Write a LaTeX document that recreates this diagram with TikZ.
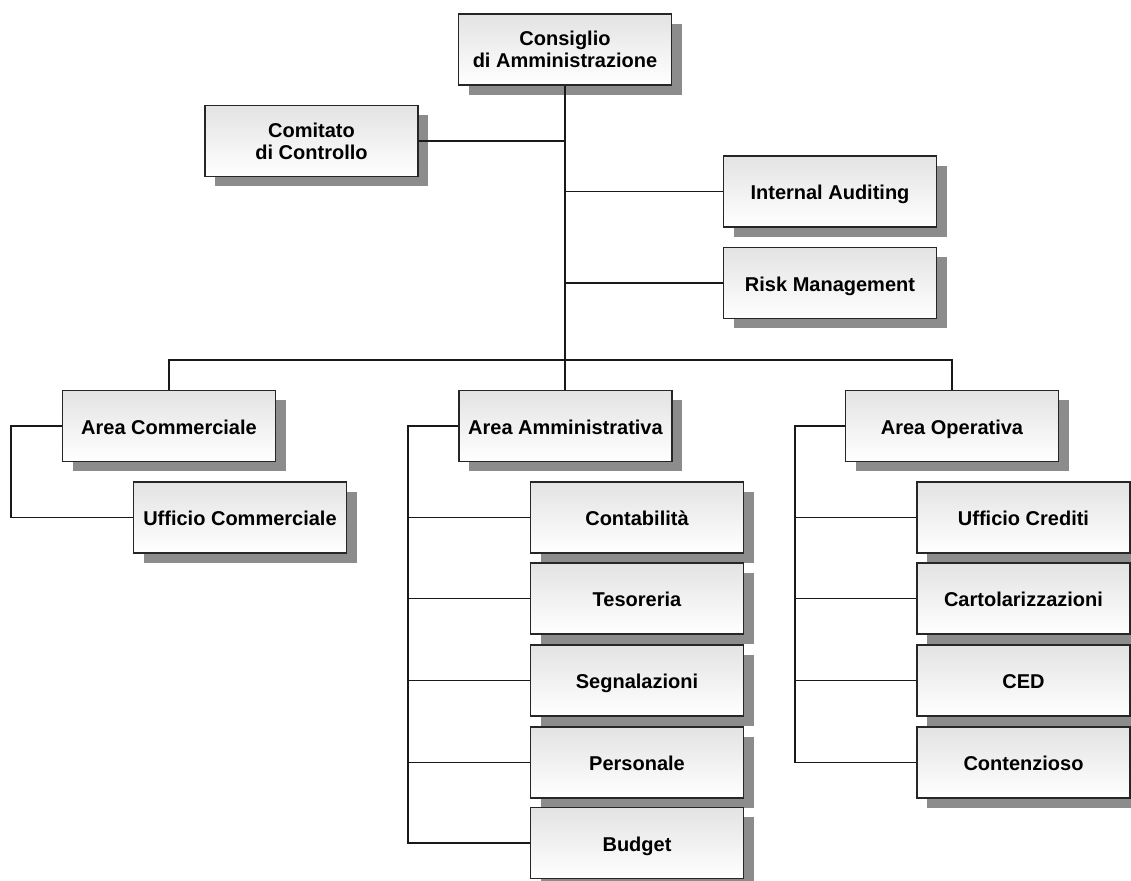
\documentclass[tikz,border=0pt]{standalone}
\usepackage{fontspec}
\setmainfont{Liberation Sans}
\usetikzlibrary{shadows}
\tikzset{
  box/.style={draw=black!85, line width=0.6pt, top color=black!11, bottom color=white,
    minimum width=106.5pt, minimum height=35.5pt, align=center, inner sep=2pt,
    font=\bfseries\fontsize{10}{11}\selectfont,
    drop shadow={shadow xshift=5pt, shadow yshift=-5pt, fill=black!45, opacity=1}},
  onebox/.style={box, text height=9.2pt, text depth=1pt},
  link/.style={line width=0.55pt, black!90}
}
\begin{document}
\begin{tikzpicture}[x=0.5pt,y=-0.5pt]
    \useasboundingbox (0,0) rectangle (1131,881);
    % top of the chart
    \node[box] (cda) at (565,49.5) {Consiglio\\di Amministrazione};
    \node[box] (com) at (311.5,141) {Comitato\\di Controllo};
    \node[onebox] (ia) at (830,191.5) {Internal Auditing};
    \node[onebox] (rm) at (830,283) {Risk Management};
    % areas
    \node[onebox] (ac) at (169,426) {Area Commerciale};
    \node[onebox] (aa) at (565.5,426) {Area Amministrativa};
    \node[onebox] (ao) at (952,426) {Area Operativa};
    % offices
    \node[onebox] (uc) at (240,517.5) {Ufficio Commerciale};
    \node[onebox] (cont) at (637,517.5) {Contabilità};
    \node[onebox] (tes) at (637,598.5) {Tesoreria};
    \node[onebox] (seg) at (637,680.5) {Segnalazioni};
    \node[onebox] (pers) at (637,762.5) {Personale};
    \node[onebox] (bud) at (637,843) {Budget};
    \node[onebox] (ucr) at (1023.5,517.5) {Ufficio Crediti};
    \node[onebox] (cart) at (1023.5,598.5) {Cartolarizzazioni};
    \node[onebox] (ced) at (1023.5,680.5) {CED};
    \node[onebox] (cntz) at (1023.5,762.5) {Contenzioso};
    % connectors
    \coordinate (bar) at (565,360);
    \coordinate (kc) at (11,426);
    \coordinate (ka) at (408,426);
    \coordinate (ko) at (795,426);
    \draw[link] (cda.south) -- (cda.south |- aa.north);
    \draw[link] (com.east) -- (com.east -| cda.south);
    \draw[link] (ia.west) -- (ia.west -| cda.south);
    \draw[link] (rm.west) -- (rm.west -| cda.south);
    \draw[link] (ac.north) |- (bar) -| (ao.north);
    \draw[link] (ac.west) -- (kc) |- (uc.west);
    \draw[link] (aa.west) -- (ka) |- (bud.west);
    \draw[link] (cont.west) -- (cont.west -| ka);
    \draw[link] (tes.west) -- (tes.west -| ka);
    \draw[link] (seg.west) -- (seg.west -| ka);
    \draw[link] (pers.west) -- (pers.west -| ka);
    \draw[link] (ao.west) -- (ko) |- (cntz.west);
    \draw[link] (ucr.west) -- (ucr.west -| ko);
    \draw[link] (cart.west) -- (cart.west -| ko);
    \draw[link] (ced.west) -- (ced.west -| ko);
\end{tikzpicture}
\end{document}
